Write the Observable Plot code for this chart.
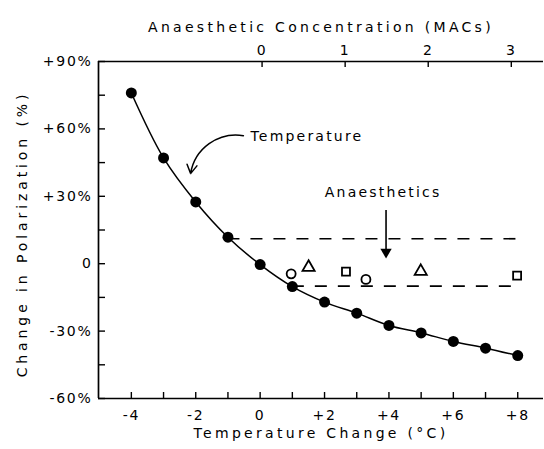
<!DOCTYPE html>
<html><head><meta charset="utf-8">
<script src="https://cdn.jsdelivr.net/npm/d3@7"></script>
<script src="https://cdn.jsdelivr.net/npm/@observablehq/plot@0.6"></script>
<style>
body{margin:0;background:#fff}
#chart svg text{letter-spacing:1.7px}
#chart svg .title text{letter-spacing:3.3px}
#chart svg .ytitle text{letter-spacing:3.9px}
#chart svg .note text{letter-spacing:2.2px}
</style></head><body><div id="chart"></div><script>
// Temperature series (filled dots)
const tempChange = [-4, -3, -2, -1, 0, 1, 2, 3, 4, 5, 6, 7, 8];
const tempPolarization = [76, 47.1, 27.5, 11.8, -0.4, -10.2, -17.1, -22, -27.5, -30.8, -34.6, -37.6, -40.9];
// Anaesthetic series (open symbols), x in MACs
const anaMAC = [0.35, 0.56, 1.01, 1.25, 1.91, 3.07];
const anaPolarization = [-4.5, -1.6, -3.5, -7, -3.4, -5.3];
const anaSymbol = ["circle", "triangle", "square", "circle", "triangle", "square"];
// Dashed band (anaesthetic range)
const bandLevel = [11.1, -10];
const bandStart = [-1, 1];
const bandEnd = [8, 8];
// Axes
const xDomain = [-5.02, 8.8];
const yDomain = [-60, 90];
const xMinorTicks = [-4, -3, -2, -1, 0, 1, 2, 3, 4, 5, 6, 7, 8];
const xMajorTicks = [-4, -2, 0, 2, 4, 6, 8];
const xTickLabels = ["-4", "-2", "0", "+2", "+4", "+6", "+8"];
const yMinorTicks = [-60, -45, -30, -15, 0, 15, 30, 45, 60, 75, 90];
const yMajorTicks = [-60, -30, 0, 30, 60, 90];
const yTickLabels = ["-60%", "-30%", "0", "+30%", "+60%", "+90%"];
const macTicks = [0, 1, 2, 3];
const macTickLabels = ["0", "1", "2", "3"];
// top axis calibration: °C position of 0 MAC and °C per MAC
const macOrigin = 0.06, macScale = 2.58;
const macToTemp = m => macOrigin + macScale * m;
// annotations
const tempLabel = {text: "Temperature", x: -0.3, y: 56.5};
const tempArrow = {x1: -0.52, y1: 57, x2: -2.16, y2: 40.1};
const anaLabel = {text: "Anaesthetics", x: 3.82, y: 31.9};
const anaArrow = {x: 3.91, y1: 23.7, y2: 6, head: 5.2};

const temps = tempChange.map((x, i) => ({x, y: tempPolarization[i]}));
const anas = anaMAC.map((m, i) => ({x: macToTemp(m), y: anaPolarization[i], s: anaSymbol[i]}));
const bands = bandLevel.map((y, i) => ({y, x1: bandStart[i], x2: bandEnd[i]}));
const xLab = new Map(xMajorTicks.map((t, i) => [t, xTickLabels[i]]));
const yLab = new Map(yMajorTicks.map((t, i) => [t, yTickLabels[i]]));
const macLab = new Map(macTicks.map((t, i) => [macToTemp(t), macTickLabels[i]]));

const chart = Plot.plot({
  width: 544, height: 449,
  marginLeft: 98, marginRight: 1, marginTop: 61, marginBottom: 51,
  style: {fontFamily: "'DejaVu Sans', sans-serif", fontSize: "14px", color: "#000", background: "#fff"},
  x: {domain: xDomain},
  y: {domain: yDomain},
  symbol: {domain: ["circle", "triangle", "square"], range: ["circle", "triangle", "square"]},
  marks: [
    Plot.ruleY(yDomain, {strokeWidth: 1.7}),
    Plot.ruleX([xDomain[0]], {strokeWidth: 1.7}),
    Plot.axisX({anchor: "bottom", ticks: xMinorTicks, tickSize: -6, strokeWidth: 1.4, tickFormat: () => "", label: null}),
    Plot.axisX({anchor: "bottom", ticks: xMajorTicks, tickSize: 0, tickPadding: 12, tickFormat: d => xLab.get(d), label: null}),
    Plot.axisX({anchor: "top", ticks: macTicks.map(macToTemp), tickSize: -5, strokeWidth: 1.4, tickFormat: () => "", label: null}),
    Plot.axisX({anchor: "top", ticks: macTicks.map(macToTemp), tickSize: 0, tickPadding: 7, tickFormat: d => macLab.get(d), label: null}),
    Plot.axisY({anchor: "left", ticks: yMinorTicks, tickSize: -7, strokeWidth: 1.4, tickFormat: () => "", label: null}),
    Plot.axisY({anchor: "left", ticks: yMajorTicks, tickSize: 0, tickPadding: 6, tickFormat: d => yLab.get(d), label: null}),
    Plot.text(["Anaesthetic Concentration (MACs)"], {frameAnchor: "top", dy: -39, className: "title", fontSize: 14}),
    Plot.text(["Temperature Change (°C)"], {frameAnchor: "bottom", dy: 39, className: "title", fontSize: 14}),
    Plot.text(["Change in Polarization (%)"], {frameAnchor: "left", textAnchor: "middle", dx: -76, dy: 4, rotate: -90, className: "ytitle", fontSize: 14}),
    Plot.ruleY(bands, {y: "y", x1: "x1", x2: "x2", strokeWidth: 1.7, strokeDasharray: "12,11"}),
    Plot.line(temps, {x: "x", y: "y", curve: "catmull-rom", strokeWidth: 1.5}),
    Plot.dot(temps, {x: "x", y: "y", r: 5.5, fill: "#000"}),
    Plot.dot(anas, {x: "x", y: "y", symbol: "s", r: 4.5, stroke: "#000", strokeWidth: 1.8, fill: "#fff"}),
    Plot.text([tempLabel], {x: "x", y: "y", text: "text", textAnchor: "start", className: "note"}),
    Plot.arrow([tempArrow], {x1: "x1", y1: "y1", x2: "x2", y2: "y2", bend: -45, strokeWidth: 1.5, headLength: 10}),
    Plot.text([anaLabel], {x: "x", y: "y", text: "text", className: "note"}),
    Plot.ruleX([anaArrow], {x: "x", y1: "y1", y2: "y2", strokeWidth: 1.6}),
    Plot.dot([anaArrow], {x: "x", y: "head", symbol: "triangle", rotate: 180, r: 4.2, fill: "#000"})
  ]
});
document.getElementById("chart").appendChild(chart);
</script></body></html>
